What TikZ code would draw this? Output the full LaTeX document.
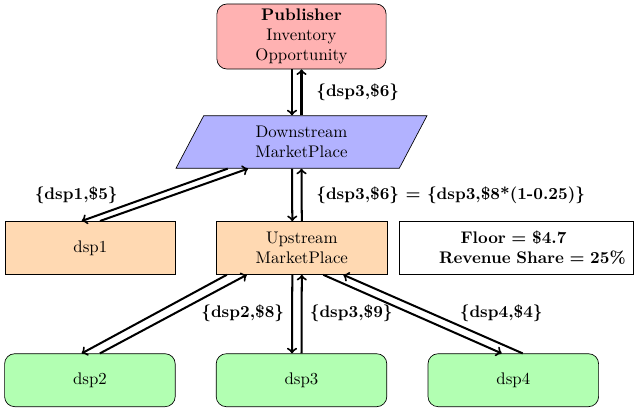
\documentclass[tikz,border=0pt]{standalone}
\usetikzlibrary{shapes.geometric,calc}
\begin{document}
\begin{tikzpicture}[x=0.595pt,y=-0.595pt,
  box/.style={draw, minimum width=101.5pt, minimum height=31.5pt, align=center, inner sep=2pt},
  rbox/.style={box, rounded corners=6pt},
  lbl/.style={font=\bfseries, inner sep=0pt, anchor=west},
  arr/.style={->, very thick}]
\useasboundingbox (0,0) rectangle (634,414);
\node[rbox, fill=red!30, minimum height=38.7pt, minimum width=100.7pt] (pub) at (301.5,36.5) {\textbf{Publisher}\\Inventory\\Opportunity};
\node[draw, trapezium, trapezium left angle=70, trapezium right angle=110, trapezium stretches=true,
  minimum width=149.7pt, minimum height=31.3pt, fill=blue!30, align=center, inner sep=2pt] (ds) at (301.5,142) {Downstream\\MarketPlace};
\node[box, fill=orange!30] (dsp1) at (90.3,247.8) {dsp1};
\node[box, fill=orange!30] (up) at (301.8,248) {Upstream\\MarketPlace};
\node[draw, minimum height=31.5pt, inner sep=2pt, text width=135.3pt, align=left, font=\bfseries] (floor) at (516.4,248)
  {\hspace*{34.4pt}Floor = \$4.7\\\hspace*{21.6pt}Revenue Share = 25\%};
\node[rbox, fill=green!30] (dsp2) at (89.9,380.2) {dsp2};
\node[rbox, fill=green!30] (dsp3) at (301.5,380.2) {dsp3};
\node[rbox, fill=green!30] (dsp4) at (513.3,380.2) {dsp4};

\coordinate (dsb) at (ds.center |- ds.south);
\coordinate (dst) at (ds.center |- ds.north);

\draw[arr] ($(pub.south)+(-9.5,0)$) -- ($(dst)+(-9.5,0)$);
\draw[arr] (dst) -- (pub.south);
\draw[arr] ($(dsb)+(-9.5,0)$) -- ($(up.north)+(-9.5,0)$);
\draw[arr] (up.north) -- (dsb);
\draw[arr] ($(dsb)+(-73.8,0)$) -- ($(dsp1.north)+(-8.6,0)$);
\draw[arr] ($(dsp1.north)+(9.7,0)$) -- ($(dsb)+(-53.5,0)$);
\draw[arr] ($(up.south)+(-75,0)$) -- ($(dsp2.north)+(-8.2,0)$);
\draw[arr] ($(dsp2.north)+(10,0)$) -- ($(up.south)+(-55,0)$);
\draw[arr] ($(up.south)+(-9.5,0)$) -- ($(dsp3.north)+(-9.5,0)$);
\draw[arr] (dsp3.north) -- (up.south);
\draw[arr] ($(up.south)+(21.5,0)$) -- ($(dsp4.north)+(-11.6,0)$);
\draw[arr] ($(dsp4.north)+(9.4,0)$) -- ($(up.south)+(41.5,0)$);

\node[lbl] (l1) at (316,92.7) {\{dsp3,\$6\}};
\node[lbl] (l2) at (316,195) {\{dsp3,\$6\} = \{dsp3,\$8*(1-0.25)\}};
\node[lbl] (l3) at (34.5,195) {\{dsp1,\$5\}};
\node[lbl] (l4) at (201,313) {\{dsp2,\$8\}};
\node[lbl] (l5) at (309.5,313) {\{dsp3,\$9\}};
\node[lbl] (l6) at (459.5,313) {\{dsp4,\$4\}};
\end{tikzpicture}
\end{document}
